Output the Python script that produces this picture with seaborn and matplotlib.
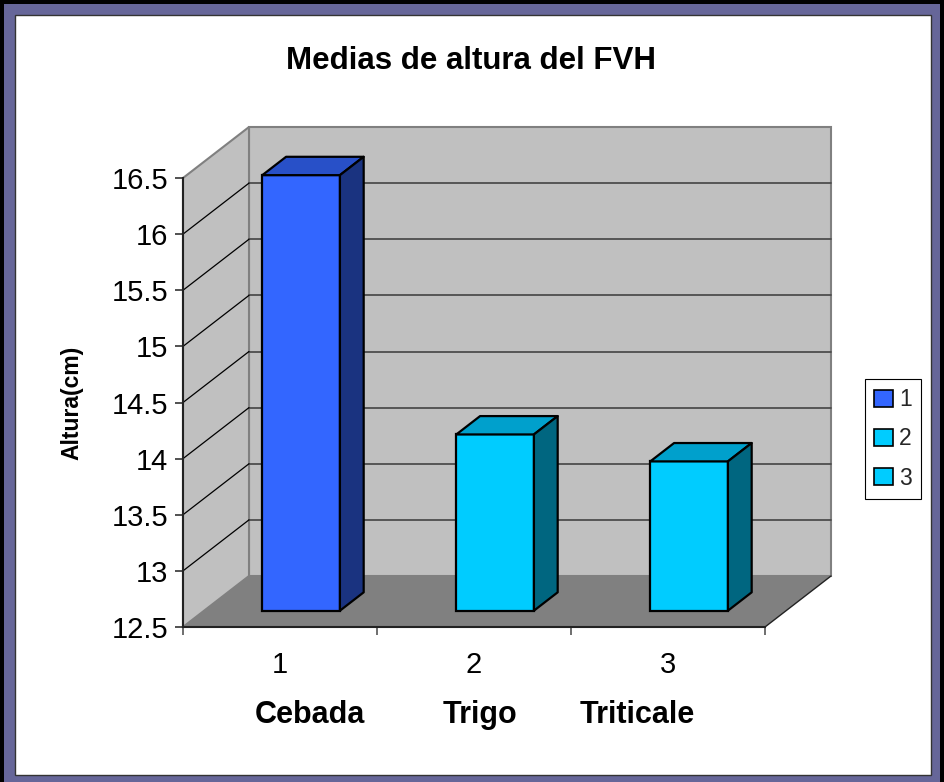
"""Medias de altura del FVH - barras estilo Excel 3D"""
import seaborn as sns
import matplotlib.pyplot as plt
import matplotlib.patches as mpatches
import pandas as pd

categorias = ['1', '2', '3']
granos = ['Cebada', 'Trigo', 'Triticale']
alturas = [16.38, 14.07, 13.83]
y_ticks = [12.5, 13, 13.5, 14, 14.5, 15, 15.5, 16, 16.5]

FRONT = ['#3366FF', '#00CCFF', '#00CCFF']
TOP = ['#2850C8', '#00A0CC', '#00A0CC']
SIDE = ['#1A3380', '#006680', '#006680']
WALL, FLOOR_C, GRID = '#C0C0C0', '#808080', '#4D4D4D'
BORDER = '#666699'

sns.set_theme(style='white')
plt.rcParams['font.family'] = ['Liberation Sans', 'DejaVu Sans']

W, H = 944, 782
fig = plt.figure(figsize=(W / 100, H / 100), dpi=100, facecolor='black')


def fx(px):
    return px / W


def fy(py):
    return 1 - py / H


# marco del grafico
fig.patches.append(mpatches.Rectangle((fx(4), 0), (940 - 4) / W, 1 - 4 / H,
                                      transform=fig.transFigure, facecolor=BORDER,
                                      edgecolor='none', zorder=-3))
fig.patches.append(mpatches.Rectangle((fx(14.5), fy(774.5)), 916 / W, 760 / H,
                                      transform=fig.transFigure, facecolor='white',
                                      edgecolor='#333333', lw=1, zorder=-2))

ax = fig.add_axes([fx(183), fy(627), fx(765) - fx(183), fy(178) - fy(627)])
ax.patch.set_alpha(0)

YMIN, YMAX = y_ticks[0], y_ticks[-1]
DX, DY = 66 / 194, 51 / 112.25      # profundidad en unidades de datos
F0, F1 = 0.32, 0.68                 # posicion de las barras en la profundidad

df = pd.DataFrame({'cat': categorias, 'altura': alturas})
sns.barplot(data=df, x='cat', y='altura', hue='cat', palette=FRONT, width=0.4,
            edgecolor='black', linewidth=1.6, legend=False, saturation=1, ax=ax)
bars = sorted(ax.patches, key=lambda p: p.get_x())

ax.set_xlim(-0.5, 2.5)
ax.set_ylim(YMIN, YMAX)

# paredes y piso
ax.add_patch(mpatches.Rectangle((-0.5 + DX, YMIN + DY), 3, YMAX - YMIN, facecolor=WALL,
                                edgecolor=FLOOR_C, lw=1.5, clip_on=False, zorder=0))
ax.add_patch(mpatches.Polygon([(-0.5, YMIN), (-0.5, YMAX), (-0.5 + DX, YMAX + DY),
                               (-0.5 + DX, YMIN + DY)], closed=True, facecolor=WALL,
                              edgecolor=FLOOR_C, lw=1.5, clip_on=False, zorder=0))
ax.add_patch(mpatches.Polygon([(-0.5, YMIN), (2.5, YMIN), (2.5 + DX, YMIN + DY),
                               (-0.5 + DX, YMIN + DY)], closed=True, facecolor=FLOOR_C,
                              edgecolor='none', clip_on=False, zorder=0.5))
ax.plot([2.5, 2.5 + DX], [YMIN, YMIN + DY], color='#222222', lw=1, clip_on=False, zorder=0.6)
for v in y_ticks[1:-1]:
    ax.plot([-0.5 + DX, 2.5 + DX], [v + DY, v + DY], color=GRID, lw=1.3,
            clip_on=False, zorder=1)
    ax.plot([-0.5, -0.5 + DX], [v, v + DY], color='black', lw=0.9,
            clip_on=False, zorder=1)

# barras: cara frontal (seaborn) + cara superior y lateral
ddx, ddy = (F1 - F0) * DX, (F1 - F0) * DY
for i, p in enumerate(bars):
    v = p.get_height()
    x0 = p.get_x() + F0 * DX
    x1 = x0 + p.get_width()
    y0 = YMIN + F0 * DY
    y1 = v + F0 * DY
    p.set_x(x0)
    p.set_y(y0)
    p.set_height(v - YMIN)
    p.set_clip_on(False)
    p.set_zorder(3)
    ax.add_patch(mpatches.Polygon([(x0, y1), (x1, y1), (x1 + ddx, y1 + ddy), (x0 + ddx, y1 + ddy)],
                                  closed=True, facecolor=TOP[i], edgecolor='black', lw=1.6,
                                  joinstyle='round', clip_on=False, zorder=3))
    ax.add_patch(mpatches.Polygon([(x1, y0), (x1, y1), (x1 + ddx, y1 + ddy), (x1 + ddx, y0 + ddy)],
                                  closed=True, facecolor=SIDE[i], edgecolor='black', lw=1.6,
                                  joinstyle='round', clip_on=False, zorder=3))

# ejes
for s in ['top', 'right']:
    ax.spines[s].set_visible(False)
for s in ['left', 'bottom']:
    ax.spines[s].set_color('#222222')
    ax.spines[s].set_linewidth(1.5)
    ax.spines[s].set_zorder(4)

ax.set_yticks(y_ticks)
ax.set_yticklabels([f'{t:g}' for t in y_ticks])
ax.tick_params(axis='y', left=True, length=5.8, width=1.2, color='#333333',
               pad=5, labelsize=21, labelcolor='black')
ax.set_xticks(range(len(categorias)))
ax.set_xticklabels(categorias)
ax.set_xticks([-0.5, 0.5, 1.5, 2.5], minor=True)
ax.tick_params(axis='x', which='major', bottom=True, length=0, pad=17,
               labelsize=21, labelcolor='black')
ax.tick_params(axis='x', which='minor', bottom=True, length=5.8, width=1.2, color='#555555')
ax.set_xlabel('')
ax.set_ylabel('')

# textos
fig.text(fx(471), fy(61), 'Medias de altura del FVH', ha='center', va='center',
         fontsize=22.5, fontweight='bold', color='black')
fig.text(fx(72), fy(403), 'Altura(cm)', ha='center', va='center', rotation=90,
         fontsize=16.5, fontweight='bold', color='black')
for g, xc in zip(granos, [310, 480, 637]):
    fig.text(fx(xc), fy(715), g, ha='center', va='center', fontsize=22,
             fontweight='bold', color='black')

handles = [mpatches.Patch(facecolor=c, edgecolor='black', lw=1.2) for c in FRONT]
leg = fig.legend(handles=handles, labels=categorias, loc='center left',
                 bbox_to_anchor=(fx(865), fy(439)), bbox_transform=fig.transFigure,
                 frameon=True, fancybox=False, edgecolor='black', framealpha=1,
                 fontsize=16.5, handlelength=0.8, handleheight=0.8,
                 handletextpad=0.3, labelspacing=0.7, borderpad=0.4, borderaxespad=0)
leg.get_frame().set_linewidth(0.8)

fig.savefig('out.png', dpi=100)
